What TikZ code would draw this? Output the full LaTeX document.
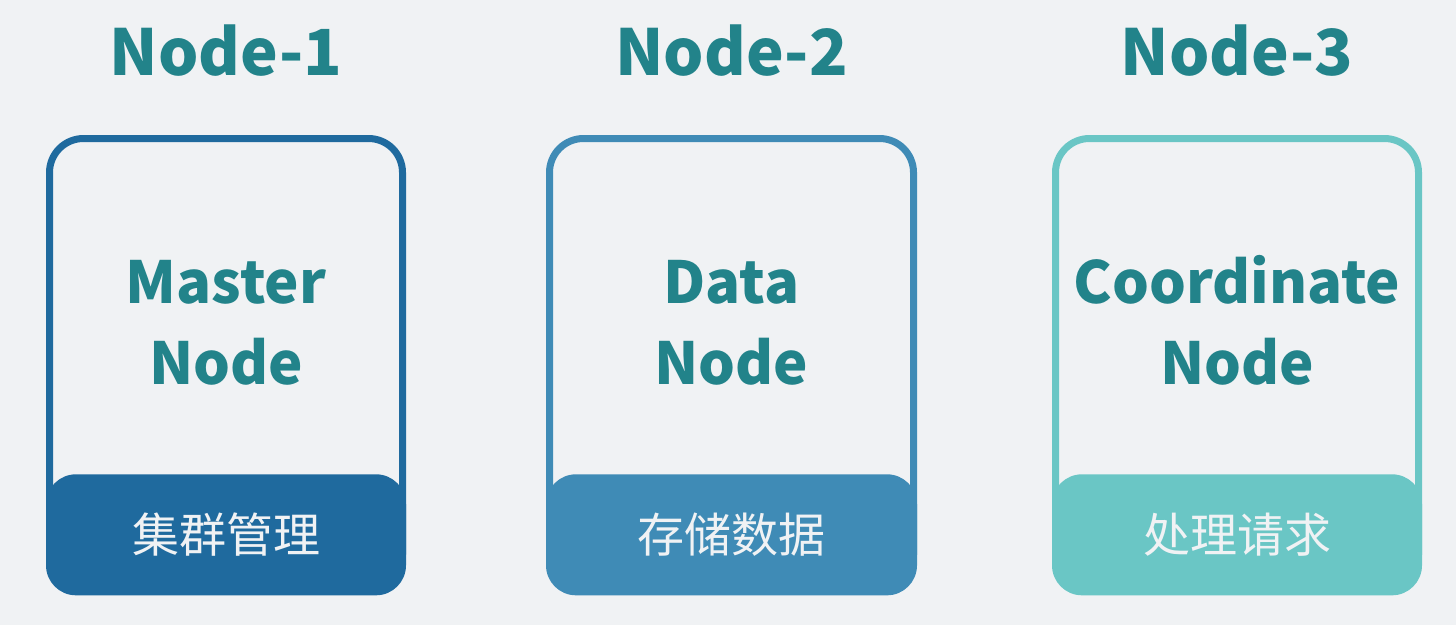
\documentclass[tikz,border=0pt]{standalone}
\usepackage{fontspec}
\setmainfont{Noto Sans CJK SC}
\usepackage{tikz}
\usetikzlibrary{positioning}
\definecolor{bgcolor}{HTML}{F0F2F4}
\definecolor{headteal}{HTML}{22838A}
\definecolor{mastercol}{HTML}{1F6A9E}
\definecolor{datacol}{HTML}{3F8BB6}
\definecolor{coordcol}{HTML}{6AC6C5}
\tikzset{nodehead/.style = {font=\fontsize{63.5}{64}\selectfont\bfseries,
                     text=headteal
                    },
         nodebox/.style = {
                     draw=#1,
                     line width=7pt,
                     rounded corners=34pt,
                     minimum width=363pt,
                     minimum height=450pt
         },
         nodeband/.style = {
                     fill=#1,
                     rounded corners=30pt,
                     minimum width=370pt,
                     minimum height=121pt,
                     anchor=south,
                     font=\fontsize{47}{47}\selectfont,
                     text=bgcolor
         },
         rolename/.style = {
            font=\fontsize{58}{81}\selectfont\bfseries,
            text=headteal,align=center
         }
        }

\begin{document}
\begin{tikzpicture}[x=1pt,y=-1pt]
        \fill[bgcolor] (0,0) rectangle (1456,625);
        \useasboundingbox (0,0) rectangle (1456,625);

        \node[nodebox=mastercol,minimum width=353pt] (box1) at (226,363.5) {};
        \node[nodebox=datacol,minimum width=364pt] (box2) at (731.5,363.5) {};
        \node[nodebox=coordcol] (box3) at (1237,363.5) {};

        \node[nodeband=mastercol,minimum width=360pt] (band1) at ([yshift=-3.5pt]box1.south) {集群管理};
        \node[nodeband=datacol,minimum width=371pt] (band2) at ([yshift=-3.5pt]box2.south) {存储数据};
        \node[nodeband=coordcol] (band3) at ([yshift=-3.5pt]box3.south) {处理请求};

        \node[nodehead,above=55pt of box1] (head1) {Node-1};
        \node[nodehead,above=55pt of box2] (head2) {Node-2};
        \node[nodehead,above=55pt of box3] (head3) {Node-3};

        \node[rolename,above=85pt of band1] (role1) {Master\\Node};
        \node[rolename,above=85pt of band2] (role2) {Data\\Node};
        \node[rolename,above=85pt of band3] (role3) {Coordinate\\Node};
    \end{tikzpicture}
\end{document}
